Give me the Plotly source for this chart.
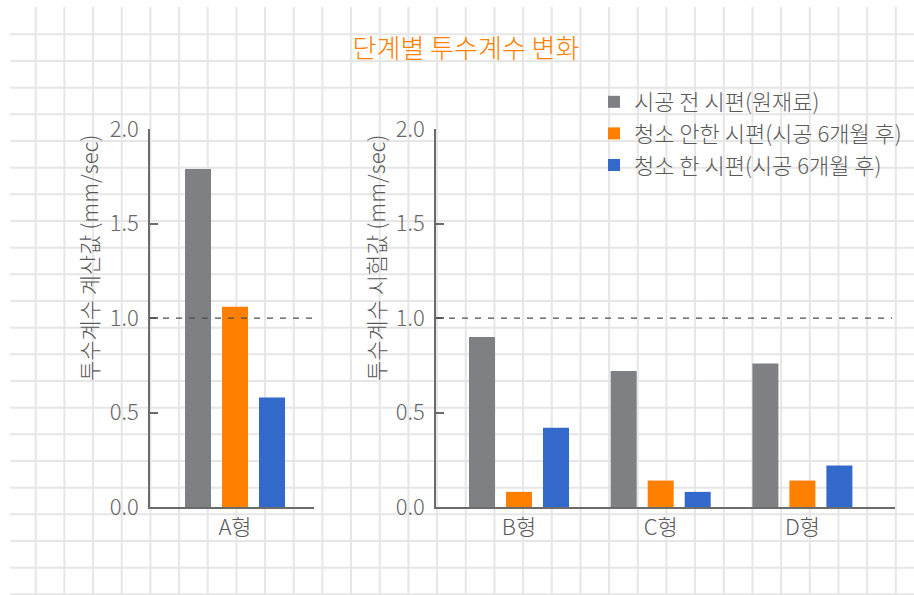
import plotly.graph_objects as go

W, H = 914, 595

# ---- data ----
series_names = ["시공 전 시편(원재료)", "청소 안한 시편(시공 6개월 후)", "청소 한 시편(시공 6개월 후)"]
series_colors = ["#7F8084", "#FF8000", "#3369CA"]
cats_left = ["A형"]
cats_right = ["B형", "C형", "D형"]
vals_left = [[1.79], [1.06], [0.58]]
vals_right = [[0.90, 0.72, 0.76], [0.08, 0.14, 0.14], [0.42, 0.08, 0.22]]
y_ticks = [0.0, 0.5, 1.0, 1.5, 2.0]
ref_level = 1.0
title_text = "단계별 투수계수 변화"
ytitle_left = "투수계수 계산값 (mm/sec)"
ytitle_right = "투수계수 시험값 (mm/sec)"

FONT = "Noto Sans CJK KR"
TXT = "#595959"
AX = "#6B6B6B"
WT = 300

def px(x):
    return x / W

def py(y):
    return 1 - y / H

fig = go.Figure()
for i, name in enumerate(series_names):
    fig.add_trace(go.Bar(x=cats_left, y=vals_left[i], name=name, marker_color=series_colors[i],
                         marker_line_width=0,
                         legendgroup=str(i), showlegend=True, xaxis="x", yaxis="y"))
for i, name in enumerate(series_names):
    fig.add_trace(go.Bar(x=cats_right, y=vals_right[i], name=name, marker_color=series_colors[i],
                         marker_line_width=0,
                         legendgroup=str(i), showlegend=False, xaxis="x2", yaxis="y2"))

# background graph-paper grid
shapes = []
k = 0
while 35.7 + 28.67 * k < W:
    x = 35.7 + 28.67 * k
    shapes.append(dict(type="line", xref="paper", yref="paper", x0=px(x), x1=px(x), y0=py(7), y1=py(H),
                       line=dict(color="#E6E6E6", width=2), layer="below"))
    k += 1
k = 0
while 34.3 + 26.67 * k < H:
    y = 34.3 + 26.67 * k
    shapes.append(dict(type="line", xref="paper", yref="paper", x0=px(10), x1=1, y0=py(y), y1=py(y),
                       line=dict(color="#E6E6E6", width=2), layer="below"))
    k += 1

# reference dashed lines
shapes.append(dict(type="line", xref="x domain", yref="y", x0=0, x1=0.99, y0=ref_level, y1=ref_level,
                   line=dict(color="#4D4D4D", width=1.3, dash="6px,7px"), layer="above"))
shapes.append(dict(type="line", xref="x2 domain", yref="y2", x0=0, x1=0.994, y0=ref_level, y1=ref_level,
                   line=dict(color="#4D4D4D", width=1.3, dash="6px,7px"), layer="above"))

ydom = [py(507), py(129.3)]
yax = dict(range=[0, 2], tickvals=y_ticks, tickformat=".1f", showgrid=False, zeroline=False,
           showline=True, linecolor=AX, linewidth=1.5, ticks="inside", ticklen=8, tickcolor=AX,
           tickwidth=1.5, tickfont=dict(family=FONT, size=22, color="#666666", weight=WT),
           ticklabelstandoff=5, automargin=False,
           domain=ydom, fixedrange=True)
xax = dict(showgrid=False, zeroline=False, showline=True, linecolor=AX, linewidth=1.5, ticks="",
           tickfont=dict(family=FONT, size=22, color=TXT, weight=WT), automargin=False, fixedrange=True)

fig.update_layout(
    template="none",
    width=W, height=H, autosize=False,
    margin=dict(l=0, r=0, t=0, b=0, pad=0),
    paper_bgcolor="white", plot_bgcolor="rgba(0,0,0,0)",
    barmode="group", bargap=0.2167, bargroupgap=0.297,
    font=dict(family=FONT, color=TXT),
    title=dict(text=title_text, x=px(466), xanchor="center", y=py(49), yanchor="middle",
               xref="paper", yref="paper", automargin=False,
               font=dict(family=FONT, size=26, color="#FF8000", weight=WT)),
    xaxis=dict(**xax, domain=[px(150), px(314)], range=[-0.600, 0.5575], anchor="y"),
    yaxis=dict(**yax, anchor="x"),
    xaxis2=dict(**xax, domain=[px(436), px(895)], range=[-0.5857, 2.6535], anchor="y2"),
    yaxis2=dict(**yax, anchor="x2"),
    legend=dict(x=px(594), y=py(81), xanchor="left", yanchor="top", bgcolor="rgba(0,0,0,0)",
                font=dict(family=FONT, size=22, color=TXT, weight=WT), tracegroupgap=0,
                traceorder="normal", itemwidth=30),
    shapes=shapes,
    annotations=[
        dict(text=ytitle_left, xref="paper", yref="paper", x=px(88), y=py(258), textangle=-90,
             showarrow=False, xanchor="center", yanchor="middle",
             font=dict(family=FONT, size=22, color=TXT, weight=WT)),
        dict(text=ytitle_right, xref="paper", yref="paper", x=px(375), y=py(258), textangle=-90,
             showarrow=False, xanchor="center", yanchor="middle",
             font=dict(family=FONT, size=22, color=TXT, weight=WT)),
    ],
)

fig.write_html("out.html")
